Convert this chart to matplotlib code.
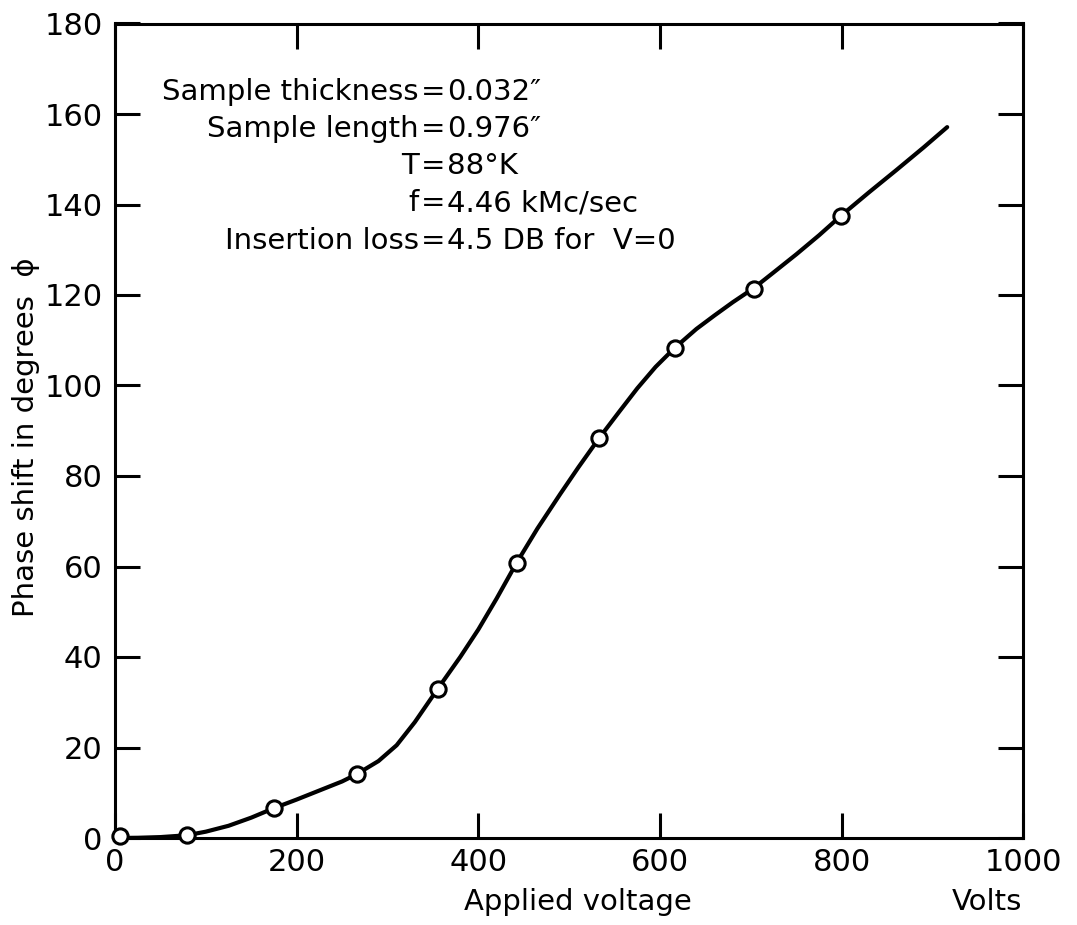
import matplotlib
matplotlib.use("Agg")
import matplotlib.pyplot as plt

# measured data points (open circles)
volts_pts = [5, 79, 175, 266, 355, 442, 533, 616, 703, 799]
phase_pts = [0.5, 0.6, 6.6, 14.1, 32.9, 60.8, 88.4, 108.3, 121.3, 137.5]

# drawn smooth curve
curve_v = [0, 25, 50, 79, 100, 125, 150, 175, 200, 225, 250, 266, 290, 310, 330,
           355, 380, 400, 420, 442, 465, 490, 510, 533, 555, 575, 595, 616, 640,
           660, 680, 703, 725, 750, 775, 799, 830, 860, 890, 916]
curve_p = [0.0, 0.05, 0.2, 0.6, 1.4, 2.7, 4.5, 6.6, 8.5, 10.5, 12.5, 14.1, 17.0,
           20.5, 25.6, 32.9, 40.0, 46.1, 52.9, 60.8, 68.4, 76.0, 81.9, 88.4, 94.2,
           99.4, 104.1, 108.3, 112.5, 115.5, 118.4, 121.5, 125.0, 129.0, 133.2,
           137.5, 142.7, 147.6, 152.6, 157.1]

x_ticks = [0, 200, 400, 600, 800, 1000]
y_ticks = [0, 20, 40, 60, 80, 100, 120, 140, 160, 180]

W, H = 1077, 925
fig = plt.figure(figsize=(W / 100, H / 100), dpi=100)
plt.rcParams['font.family'] = ['DejaVu Sans']

ax = fig.add_axes([115 / W, 1 - 838 / H, (1023.5 - 115) / W, (838 - 23.5) / H])
ax.set_xlim(0, 1000)
ax.set_ylim(0, 180)

ax.plot(curve_v, curve_p, color='black', lw=3.0, solid_capstyle='round',
        solid_joinstyle='round', zorder=2)
ax.plot(volts_pts, phase_pts, 'o', ms=11, mfc='white', mec='black', mew=2.2,
        zorder=3, clip_on=False)

for s in ax.spines.values():
    s.set_linewidth(2.2)

ax.set_xticks(x_ticks)
ax.set_yticks(y_ticks)
ax.set_xticklabels([str(t) for t in x_ticks], fontsize=22)
ax.set_yticklabels([str(t) for t in y_ticks], fontsize=22)
ax.tick_params(direction='in', length=18, width=2.2, top=True, right=True)
ax.tick_params(axis='y', pad=9)
ax.tick_params(axis='x', pad=7)

def px(x, y):
    return x / W, 1 - y / H

# annotation block aligned on the "=" signs
eq_x = 433
fs = 21
lines = [
    ("Sample thickness", "0.032\u2033", 92),
    ("Sample length", "0.976\u2033", 129),
    ("T", "88\u00b0K", 166),
    ("f", "4.46 kMc/sec", 203),
    ("Insertion loss", "4.5 DB for  V=0", 241),
]
for left, right, y in lines:
    fig.text(*px(eq_x - 14, y), left, ha='right', va='center', fontsize=fs)
    fig.text(*px(eq_x, y), "=", ha='center', va='center', fontsize=fs)
    fig.text(*px(eq_x + 14, y), right, ha='left', va='center', fontsize=fs)

fig.text(*px(578, 902), "Applied voltage", ha='center', va='center', fontsize=fs)
fig.text(*px(987, 902), "Volts", ha='center', va='center', fontsize=fs)
fig.text(*px(26, 437), "Phase shift in degrees  \u03d5", ha='center', va='center',
         rotation=90, fontsize=fs)

fig.savefig("out.png", dpi=100, facecolor='white')
